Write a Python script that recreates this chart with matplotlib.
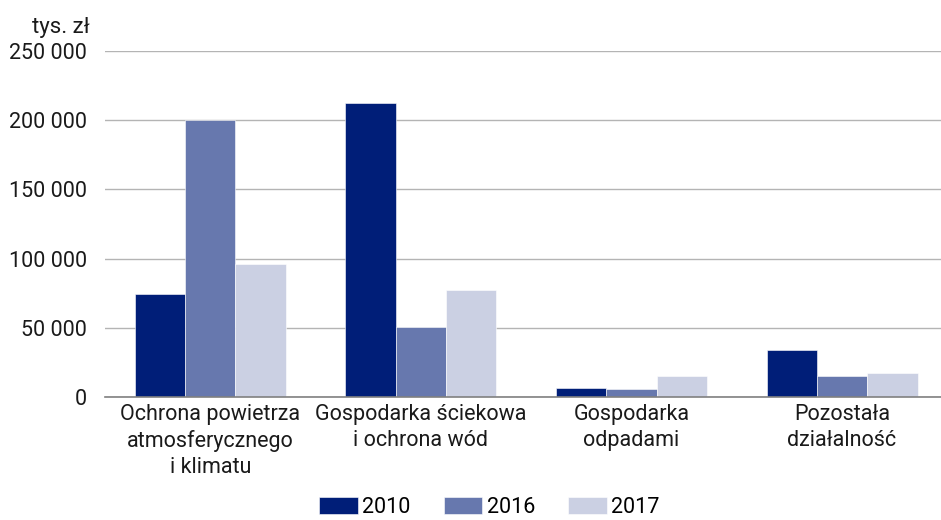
import numpy as np
import matplotlib.pyplot as plt

plt.rcParams['font.family'] = ['Roboto', 'DejaVu Sans']

categories = ['Ochrona powietrza\natmosferycznego\ni klimatu',
              'Gospodarka ściekowa\ni ochrona wód',
              'Gospodarka\nodpadami',
              'Pozostała\ndziałalność']
years = ['2010', '2016', '2017']
v2010 = [74700, 212500, 6500, 33900]
v2016 = [200000, 50600, 5500, 15200]
v2017 = [96100, 77200, 15400, 17500]
colors = ['#001E78', '#6778AE', '#CBD0E3']

fig = plt.figure(figsize=(9.41, 5.2), dpi=100)
ax = fig.add_axes([105/941, 1-397/520, 1-105/941, (397-51)/520])

x = np.arange(len(categories))
w = 0.239
for i, (vals, lab) in enumerate(zip([v2010, v2016, v2017], years)):
    ax.bar(x + (i-1)*w, vals, w, color=colors[i], label=lab,
           edgecolor='white', linewidth=0.4, zorder=3)

ax.set_xlim(-0.5, 3.47)
ax.set_ylim(0, 250000)
ax.set_yticks(np.arange(0, 250001, 50000))
ax.set_yticklabels([f'{v:,}'.replace(',', ' ') for v in range(0, 250001, 50000)])
ax.set_xticks(x)
ax.set_xticklabels(categories, linespacing=1.3)
ax.tick_params(axis='both', length=0, labelsize=15.5, colors='#1a1a1a')
ax.tick_params(axis='y', pad=13)
ax.tick_params(axis='x', pad=5)
ax.grid(axis='y', color='#B4B4B4', linewidth=1, zorder=0)
for s in ['top', 'right', 'left']:
    ax.spines[s].set_visible(False)
ax.spines['bottom'].set_color('#808080')
ax.spines['bottom'].set_linewidth(1.2)
ax.spines['bottom'].set_zorder(4)

fig.text(90/941, 1-27/520, 'tys. zł', ha='right', va='center', fontsize=16, color='#1a1a1a')

fig.legend(loc='lower center', bbox_to_anchor=(0.52, -0.033), ncol=3, frameon=False,
           fontsize=15.5, handlelength=1.8, handleheight=0.8, handletextpad=0.2,
           columnspacing=1.55)

fig.savefig('out.png', dpi=100)
